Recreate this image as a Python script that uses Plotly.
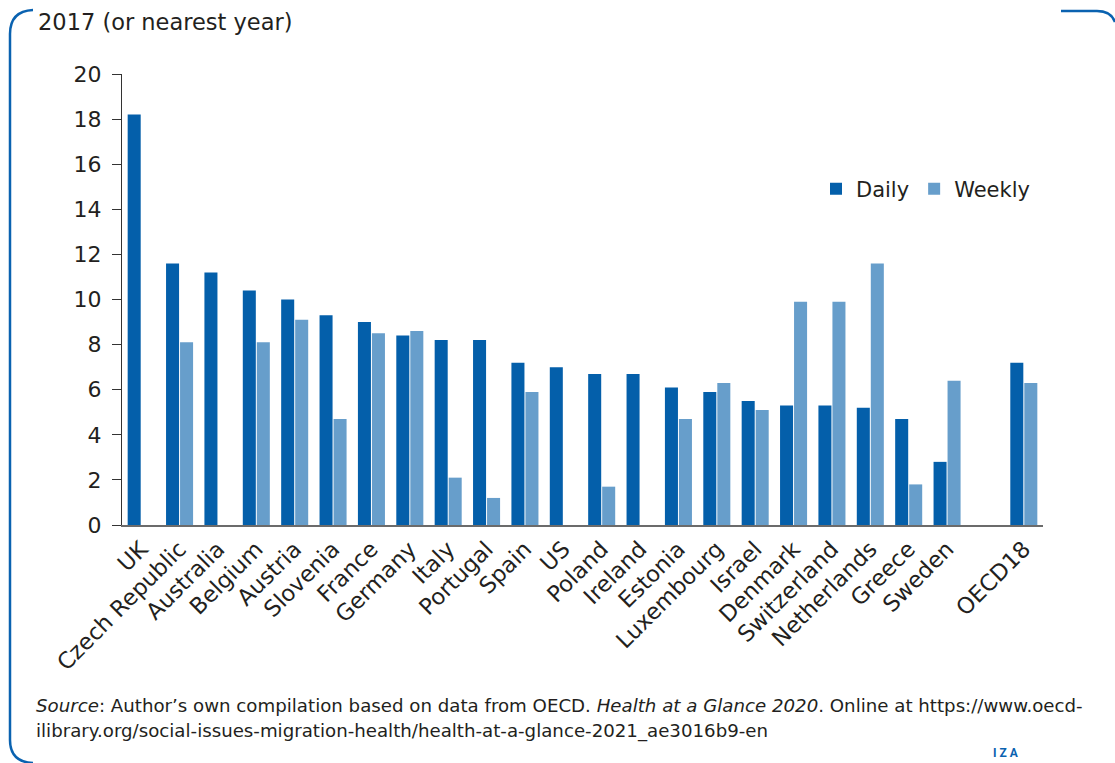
import plotly.graph_objects as go

countries = ["UK", "Czech Republic", "Australia", "Belgium", "Austria", "Slovenia",
             "France", "Germany", "Italy", "Portugal", "Spain", "US", "Poland",
             "Ireland", "Estonia", "Luxembourg", "Israel", "Denmark", "Switzerland",
             "Netherlands", "Greece", "Sweden", " ", "OECD18"]
daily = [18.2, 11.6, 11.2, 10.4, 10.0, 9.3, 9.0, 8.4, 8.2, 8.2, 7.2, 7.0, 6.7,
         6.7, 6.1, 5.9, 5.5, 5.3, 5.3, 5.2, 4.7, 2.8, None, 7.2]
weekly = [None, 8.1, None, 8.1, 9.1, 4.7, 8.5, 8.6, 2.1, 1.2, 5.9, None, 1.7,
          None, 4.7, 6.3, 5.1, 9.9, 9.9, 11.6, 1.8, 6.4, None, 6.3]
y_ticks = [0, 2, 4, 6, 8, 10, 12, 14, 16, 18, 20]

W, H = 1115, 763
L, R, T, B = 122, 1043, 74, 525
PW, PH = R - L, B - T

def px(x):
    return (x - L) / PW

def py(y):
    return (B - y) / PH

FONT = "DejaVu Sans"
TXT = "#231F20"
DARK = "#045FAA"
LIGHT = "#679ECB"
FRAME = "#0A62B0"

fig = go.Figure()
fig.add_trace(go.Bar(x=countries, y=daily, name="Daily", marker_color=DARK,
                     marker_line_width=0))
fig.add_trace(go.Bar(x=countries, y=weekly, name="Weekly", marker_color=LIGHT,
                     marker_line_width=0))

fig.update_layout(
    width=W, height=H,
    margin=dict(l=L, r=W - R, t=T, b=H - B, pad=0),
    paper_bgcolor="white", plot_bgcolor="white",
    barmode="group", bargap=0.27, bargroupgap=0.07,
    font=dict(family=FONT, color=TXT, size=22),
    showlegend=True,
    legend=dict(orientation="h", x=px(816), y=py(189), xanchor="left", yanchor="middle",
                font=dict(family=FONT, size=21, color=TXT), bgcolor="rgba(0,0,0,0)",
                itemwidth=30, traceorder="normal"),
    xaxis=dict(type="category", tickangle=-45, showgrid=False, ticks="",
               showline=True, linecolor="#6B6B6B", linewidth=2,
               tickfont=dict(family=FONT, size=22.5, color=TXT), automargin=False),
    yaxis=dict(range=[0, 20], tickvals=y_ticks, showgrid=False, zeroline=False,
               showline=True, linecolor="#333333", linewidth=1,
               ticks="outside", ticklen=9, tickcolor="#333333", tickwidth=1,
               ticklabelstandoff=6,
               tickfont=dict(family=FONT, size=22, color=TXT), automargin=False),
)

annotations = [
    dict(text="2017 (or nearest year)", x=px(36), y=py(22), xanchor="left", yanchor="middle",
         font=dict(family=FONT, size=22.5, color=TXT)),
    dict(text="<i>Source</i>: Author’s own compilation based on data from OECD. <i>Health at a Glance 2020</i>. Online at https://www.oecd-",
         x=px(34), y=py(705), xanchor="left", yanchor="middle",
         font=dict(family=FONT, size=18.2, color=TXT)),
    dict(text="ilibrary.org/social-issues-migration-health/health-at-a-glance-2021_ae3016b9-en",
         x=px(34), y=py(731), xanchor="left", yanchor="middle",
         font=dict(family=FONT, size=18.2, color=TXT)),
    dict(text="<b>I Z A</b>", x=px(991), y=py(762), xanchor="left", yanchor="bottom",
         font=dict(family="Roboto", size=12, color=FRAME)),
]
for a in annotations:
    a.update(xref="paper", yref="paper", showarrow=False)
fig.update_layout(annotations=annotations)

def P(x, y):
    return f"{px(x):.5f},{py(y):.5f}"

left_frame = (f"M{P(33, 10)} Q{P(10, 11)} {P(10, 34)} L{P(10, 740)} "
              f"Q{P(10, 762)} {P(33, 763)}")
right_frame = f"M{P(1061, 11)} L{P(1097, 11)} Q{P(1111, 11)} {P(1115, 22)}"
fig.update_layout(shapes=[
    dict(type="path", path=left_frame, xref="paper", yref="paper",
         line=dict(color=FRAME, width=2.5)),
    dict(type="path", path=right_frame, xref="paper", yref="paper",
         line=dict(color=FRAME, width=2.5)),
])

fig.write_html("out.html")
